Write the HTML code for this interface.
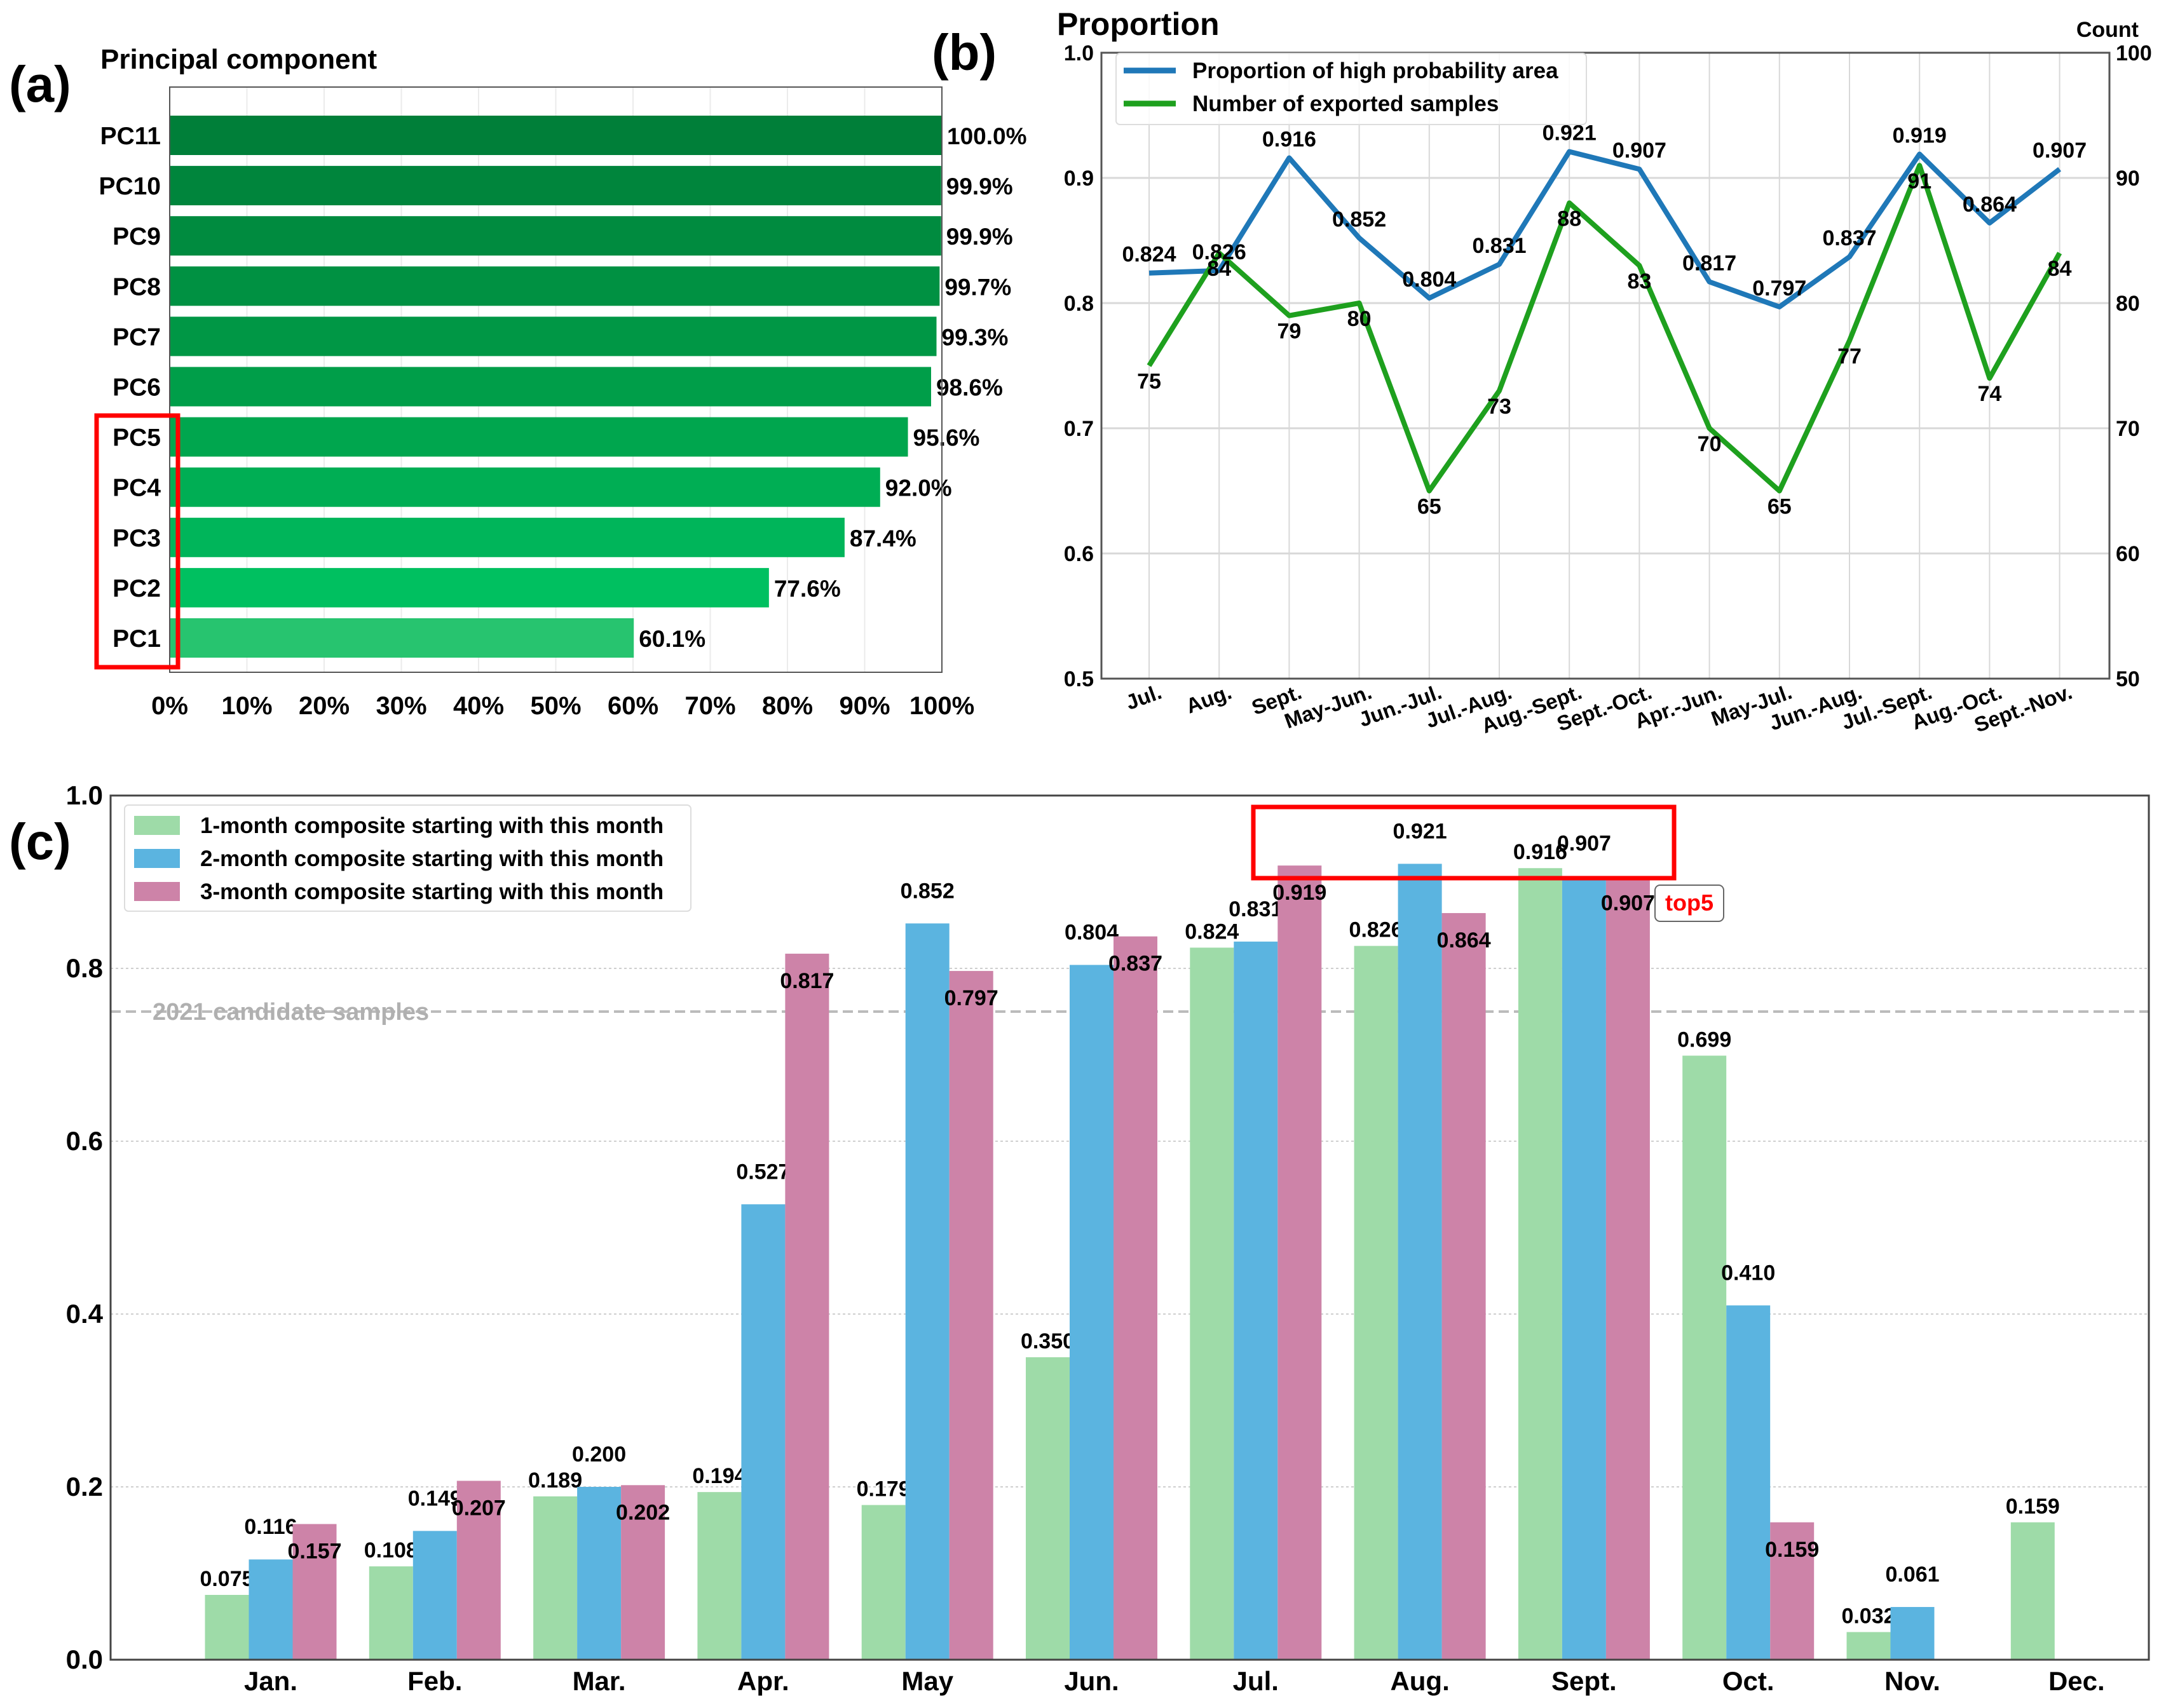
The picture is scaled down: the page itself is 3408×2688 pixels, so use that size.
<!DOCTYPE html>
<html><head><meta charset="utf-8">
<style>
html,body{margin:0;padding:0;background:#fff;}
svg{display:block;}
text{font-family:"Liberation Sans Narrow","Liberation Sans",sans-serif;font-weight:bold;fill:#000;}
</style></head>
<body>
<svg id="fig" width="3408" height="2688" viewBox="0 0 3408 2688" xmlns="http://www.w3.org/2000/svg">
<g id="pa"></g>
<g id="pb"></g>
<g id="pc"></g>
</svg>
<script>
// Panel (a) data
const pcLabels = ["PC1","PC2","PC3","PC4","PC5","PC6","PC7","PC8","PC9","PC10","PC11"];
const pcValues = [60.1,77.6,87.4,92.0,95.6,98.6,99.3,99.7,99.9,99.9,100.0];
const pcColors = ["#27c46f","#00c060","#00b55a","#00ae54","#00a64e","#009e49","#009745","#009142","#008b3f","#00853c","#007f39"];
const pcTicks = [0,10,20,30,40,50,60,70,80,90,100];
// Panel (b) data
const bCats = ["Jul.","Aug.","Sept.","May-Jun.","Jun.-Jul.","Jul.-Aug.","Aug.-Sept.","Sept.-Oct.","Apr.-Jun.","May-Jul.","Jun.-Aug.","Jul.-Sept.","Aug.-Oct.","Sept.-Nov."];
const bProp = [0.824,0.826,0.916,0.852,0.804,0.831,0.921,0.907,0.817,0.797,0.837,0.919,0.864,0.907];
const bCount = [75,84,79,80,65,73,88,83,70,65,77,91,74,84];
const bLeftTicks = [0.5,0.6,0.7,0.8,0.9,1.0];
const bRightTicks = [50,60,70,80,90,100];
// Panel (c) data
const cMonths = ["Jan.","Feb.","Mar.","Apr.","May","Jun.","Jul.","Aug.","Sept.","Oct.","Nov.","Dec."];
const c1 = [0.075,0.108,0.189,0.194,0.179,0.350,0.824,0.826,0.916,0.699,0.032,0.159];
const c2 = [0.116,0.149,0.200,0.527,0.852,0.804,0.831,0.921,0.907,0.410,0.061,null];
const c3 = [0.157,0.207,0.202,0.817,0.797,0.837,0.919,0.864,0.907,0.159,null,null];
const cTicks = [0.0,0.2,0.4,0.6,0.8,1.0];

const NS="http://www.w3.org/2000/svg";
function mk(parent,tag,attrs,txt){const e=document.createElementNS(NS,tag);for(const k in attrs)e.setAttribute(k,attrs[k]);if(txt!==undefined)e.textContent=txt;parent.appendChild(e);return e;}

// ---------- Panel A ----------
const pa=document.getElementById('pa');
const aL=267,aR=1482,aT=137,aB=1058;
const ax=v=>aL+(aR-aL)*v/100;
const ay=i=>1004-i*79.1;
let t;
t=mk(pa,'text',{x:14,y:160,'font-size':80},'(a)');


t=mk(pa,'text',{x:158,y:108,'font-size':44},'Principal component');


pcTicks.forEach(v=>{
  let g=mk(pa,'line',{x1:ax(v),x2:ax(v),y1:aT,y2:aB,stroke:'#ebebeb','stroke-width':2});
  
  
  let l=mk(pa,'text',{x:ax(v),y:1124,'font-size':40,'text-anchor':'middle'},v+'%');
  
  
});
pcValues.forEach((v,i)=>{
  let r=mk(pa,'rect',{x:aL,y:ay(i)-31,width:ax(v)-aL,height:62,fill:pcColors[i]});
  
  
  let l=mk(pa,'text',{x:aL-14,y:ay(i)+14,'font-size':39,'text-anchor':'end'},pcLabels[i]);
  
  
  let vl=mk(pa,'text',{x:ax(v)+8,y:ay(i)+14,'font-size':37},v.toFixed(1)+'%');
  
  
});
t=mk(pa,'rect',{x:aL,y:aT,width:aR-aL,height:aB-aT,fill:'none',stroke:'#555','stroke-width':2});


t=mk(pa,'rect',{x:152,y:654,width:128,height:396,fill:'none',stroke:'#f00','stroke-width':7});



// ---------- Panel B ----------
const pb=document.getElementById('pb');
const bL=1733,bR=3319,bT=83,bB=1068;
const bx=i=>1808+i*110.2;
const byL=v=>bB-(v-0.5)/0.5*(bB-bT);
const byR=v=>bB-(v-50)/50*(bB-bT);
t=mk(pb,'text',{x:1466,y:110,'font-size':80},'(b)');


t=mk(pb,'text',{x:1663,y:55,'font-size':50},'Proportion');


t=mk(pb,'text',{x:3365,y:58,'font-size':34,'text-anchor':'end'},'Count');


bLeftTicks.forEach(v=>{
  let g=mk(pb,'line',{x1:bL,x2:bR,y1:byL(v),y2:byL(v),stroke:'#d8d8d8','stroke-width':3});
  
  
  let l=mk(pb,'text',{x:bL-12,y:byL(v)+12,'font-size':34,'text-anchor':'end'},v.toFixed(1));
  
  
});
bRightTicks.forEach(v=>{
  let l=mk(pb,'text',{x:bR+10,y:byR(v)+12,'font-size':34},String(v));
  
  
});
bCats.forEach((c,i)=>{
  let g=mk(pb,'line',{x1:bx(i),x2:bx(i),y1:bT,y2:bB,stroke:'#d8d8d8','stroke-width':2});
  
  
  let l=mk(pb,'text',{x:bx(i)+22,y:1098,'font-size':33,'text-anchor':'end',transform:`rotate(-20 ${bx(i)+22} 1098)`},c);
  
  
});
t=mk(pb,'rect',{x:bL,y:bT,width:bR-bL,height:bB-bT,fill:'none',stroke:'#555','stroke-width':3});


t=mk(pb,'polyline',{points:bProp.map((v,i)=>bx(i)+','+byL(v)).join(' '),fill:'none',stroke:'#1f78b8','stroke-width':8,'stroke-linejoin':'round'});


t=mk(pb,'polyline',{points:bCount.map((v,i)=>bx(i)+','+byR(v)).join(' '),fill:'none',stroke:'#1ea01e','stroke-width':8,'stroke-linejoin':'round'});


bProp.forEach((v,i)=>{
  let l=mk(pb,'text',{x:bx(i),y:byL(v)-18,'font-size':34,'text-anchor':'middle'},v.toFixed(3));
  
  
});
bCount.forEach((v,i)=>{
  let l=mk(pb,'text',{x:bx(i),y:byR(v)+36,'font-size':34,'text-anchor':'middle'},String(v));
  
  
});
let lg=mk(pb,'g',{});


mk(lg,'rect',{x:1756,y:84,width:740,height:112,fill:'#fff','fill-opacity':0.85,stroke:'#ddd','stroke-width':2,rx:6});
mk(lg,'line',{x1:1768,x2:1850,y1:111,y2:111,stroke:'#1f78b8','stroke-width':9});
mk(lg,'line',{x1:1768,x2:1850,y1:163,y2:163,stroke:'#1ea01e','stroke-width':9});
t=mk(lg,'text',{x:1876,y:123,'font-size':35},'Proportion of high probability area');


t=mk(lg,'text',{x:1876,y:175,'font-size':35},'Number of exported samples');



// ---------- Panel C ----------
const pc=document.getElementById('pc');
const cL=174,cR=3381,cT=1252,cB=2612;
const cy=v=>cB-v*(cB-cT);
const cx=i=>426+i*258.3;
const bw=69;
t=mk(pc,'text',{x:14,y:1352,'font-size':80},'(c)');


cTicks.forEach(v=>{
  if(v>0&&v<1){let g=mk(pc,'line',{x1:cL,x2:cR,y1:cy(v),y2:cy(v),stroke:'#cfcfcf','stroke-width':2,'stroke-dasharray':'4 4'});
  
  }
  let l=mk(pc,'text',{x:cL-12,y:cy(v)+14,'font-size':42,'text-anchor':'end'},v.toFixed(1));
  
  
});
t=mk(pc,'line',{x1:cL,x2:cR,y1:cy(0.75),y2:cy(0.75),stroke:'#bbb','stroke-width':4,'stroke-dasharray':'16 8'});


t=mk(pc,'text',{x:240,y:cy(0.75)+13,'font-size':38,style:'fill:#b0b0b0'},'2021 candidate samples');


const series=[[c1,'#9edba8',-1,-14],[c2,'#5bb4e0',0,-40],[c3,'#cd83a8',1,54]];
series.forEach(([arr,col,off,dy],si)=>{
  arr.forEach((v,i)=>{
    if(v===null)return;
    let r=mk(pc,'rect',{x:cx(i)+off*bw-bw/2,y:cy(v),width:bw,height:cy(0)-cy(v),fill:col});
    
    
    let l=mk(pc,'text',{x:cx(i)+off*bw,y:cy(v)+dy,'font-size':34,'text-anchor':'middle'},v.toFixed(3));
    
    
  });
});
cMonths.forEach((m,i)=>{
  let l=mk(pc,'text',{x:cx(i),y:2660,'font-size':42,'text-anchor':'middle'},m);
  
  
});
t=mk(pc,'rect',{x:cL,y:cT,width:cR-cL,height:cB-cT,fill:'none',stroke:'#444','stroke-width':3});


t=mk(pc,'rect',{x:1972,y:1270,width:662,height:112,fill:'none',stroke:'#f00','stroke-width':7});


t=mk(pc,'rect',{x:2604,y:1393,width:108,height:57,fill:'#fff',stroke:'#666','stroke-width':2,rx:8});


t=mk(pc,'text',{x:2658,y:1433,'font-size':36,'text-anchor':'middle',style:'fill:#f00'},'top5');


let lc=mk(pc,'g',{});


mk(lc,'rect',{x:196,y:1267,width:891,height:167,fill:'#fff','fill-opacity':0.85,stroke:'#ddd','stroke-width':2,rx:6});
const legTxt=["1-month composite starting with this month","2-month composite starting with this month","3-month composite starting with this month"];
series.forEach(([a,col],k)=>{
  mk(lc,'rect',{x:211,y:1284+k*52,width:72,height:30,fill:col});
  let l=mk(lc,'text',{x:315,y:1311+k*52,'font-size':35},legTxt[k]);
  
  
});
</script>
</body></html>
